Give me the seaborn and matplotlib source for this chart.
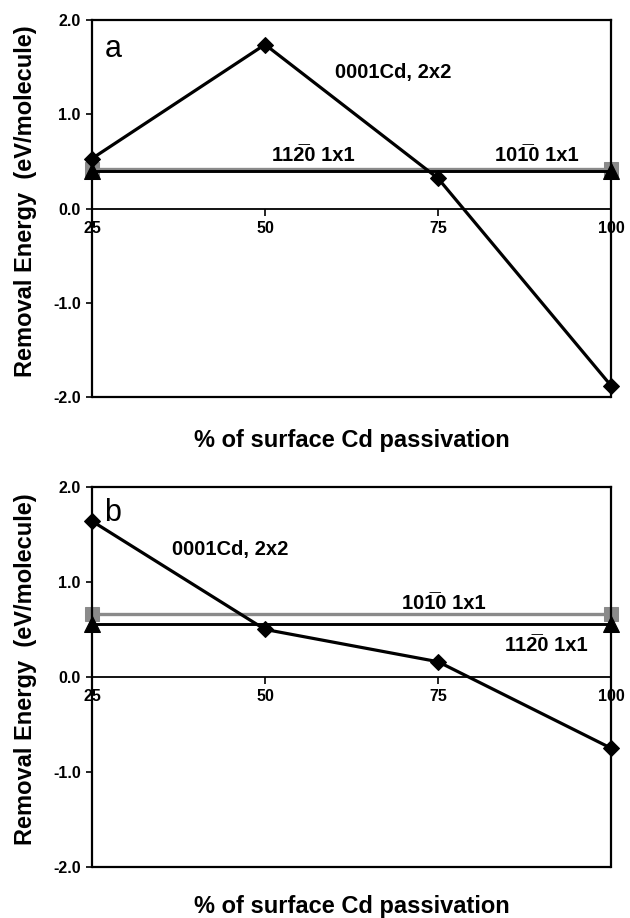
import numpy as np
import pandas as pd
import seaborn as sns
import matplotlib
matplotlib.use("Agg")
import matplotlib.pyplot as plt

# % of surface Cd passivation
pct = [25, 50, 75, 100]
ends = [25, 100]

# panel a
a_0001 = [0.53, 1.74, 0.32, -1.88]
a_1120 = [0.40, 0.40]
a_1010 = [0.42, 0.42]

# panel b
b_0001 = [1.64, 0.50, 0.16, -0.75]
b_1120 = [0.56, 0.56]
b_1010 = [0.66, 0.66]

yticks = [-2.0, -1.0, 0.0, 1.0, 2.0]
ytick_labels = ["-2.0", "-1.0", "0.0", "1.0", "2.0"]

lbl_0001 = "0001Cd, 2x2"
lbl_1120 = "112\u03050 1x1"
lbl_1010 = "101\u03050 1x1"

sns.set_theme(style="white")
plt.rcParams["font.family"] = ["Liberation Sans", "DejaVu Sans"]
plt.rcParams["font.weight"] = "bold"
plt.rcParams["text.color"] = "black"
plt.rcParams["axes.labelcolor"] = "black"
plt.rcParams["xtick.color"] = "black"
plt.rcParams["ytick.color"] = "black"


def draw_panel(ax, d0001, d1120, d1010, letter, texts, xlab_y):
    gray = "#8a8a8a"
    sns.lineplot(x=ends, y=d1010, ax=ax, color=gray, lw=2.4, marker="s",
                 markersize=10, markeredgecolor=gray, legend=False, clip_on=False)
    sns.lineplot(x=ends, y=d1120, ax=ax, color="black", lw=2.1, marker="^",
                 markersize=11, markeredgecolor="black", legend=False, clip_on=False)
    sns.lineplot(x=pct, y=d0001, ax=ax, color="black", lw=2.3, marker="D",
                 markersize=8.5, markeredgecolor="black", legend=False, clip_on=False)

    ax.set_xlim(25, 100)
    ax.set_ylim(-2.0, 2.0)

    # x axis sits on the zero line, box closed at the bottom
    ax.spines["bottom"].set_position(("data", 0.0))
    ax.spines["bottom"].set_linewidth(1.3)
    for s in ["left", "right", "top"]:
        ax.spines[s].set_linewidth(1.6)
        ax.spines[s].set_color("black")
    ax.spines["bottom"].set_color("black")
    ax.axhline(-2.0, color="black", lw=1.6, clip_on=False)

    ax.set_xticks(pct)
    ax.set_xticklabels([str(p) for p in pct])
    ax.set_yticks(yticks)
    ax.set_yticklabels(ytick_labels)
    ax.tick_params(axis="x", direction="out", length=5, width=1.2, pad=4,
                   bottom=True, labelsize=11.5)
    ax.tick_params(axis="y", direction="out", length=4, width=1.2, pad=4,
                   left=True, labelsize=11.5)
    for lab in ax.get_xticklabels() + ax.get_yticklabels():
        lab.set_fontweight("bold")

    ax.set_xlabel("% of surface Cd passivation", fontsize=17, fontweight="bold")
    ax.xaxis.label.set_va("center")
    ax.xaxis.set_label_coords(0.5, xlab_y)
    ax.set_ylabel("Removal Energy  (eV/molecule)", fontsize=17, fontweight="bold")
    ax.yaxis.label.set_va("center")
    ax.yaxis.set_label_coords(-0.128, 0.52)

    ax.text(letter[1], letter[2], letter[0], fontsize=22, fontweight="normal",
            ha="left", va="center")
    for t, x, y in texts:
        ax.text(x, y, t, fontsize=14.5, fontweight="bold", ha="center", va="center")


fig = plt.figure(figsize=(6.3, 9.18), dpi=100)
ax_a = fig.add_axes([0.146, 0.5675, 0.824, 0.4107])
ax_b = fig.add_axes([0.146, 0.0556, 0.824, 0.414])

draw_panel(ax_a, a_0001, a_1120, a_1010, ("a", 26.8, 1.69),
           [(lbl_0001, 68.5, 1.44), (lbl_1120, 57.0, 0.56), (lbl_1010, 89.3, 0.56)],
           -0.114)
draw_panel(ax_b, b_0001, b_1120, b_1010, ("b", 26.8, 1.73),
           [(lbl_0001, 45.0, 1.34), (lbl_1010, 75.8, 0.77), (lbl_1120, 90.6, 0.33)],
           -0.103)

fig.savefig("out.png", dpi=100, facecolor="white")
